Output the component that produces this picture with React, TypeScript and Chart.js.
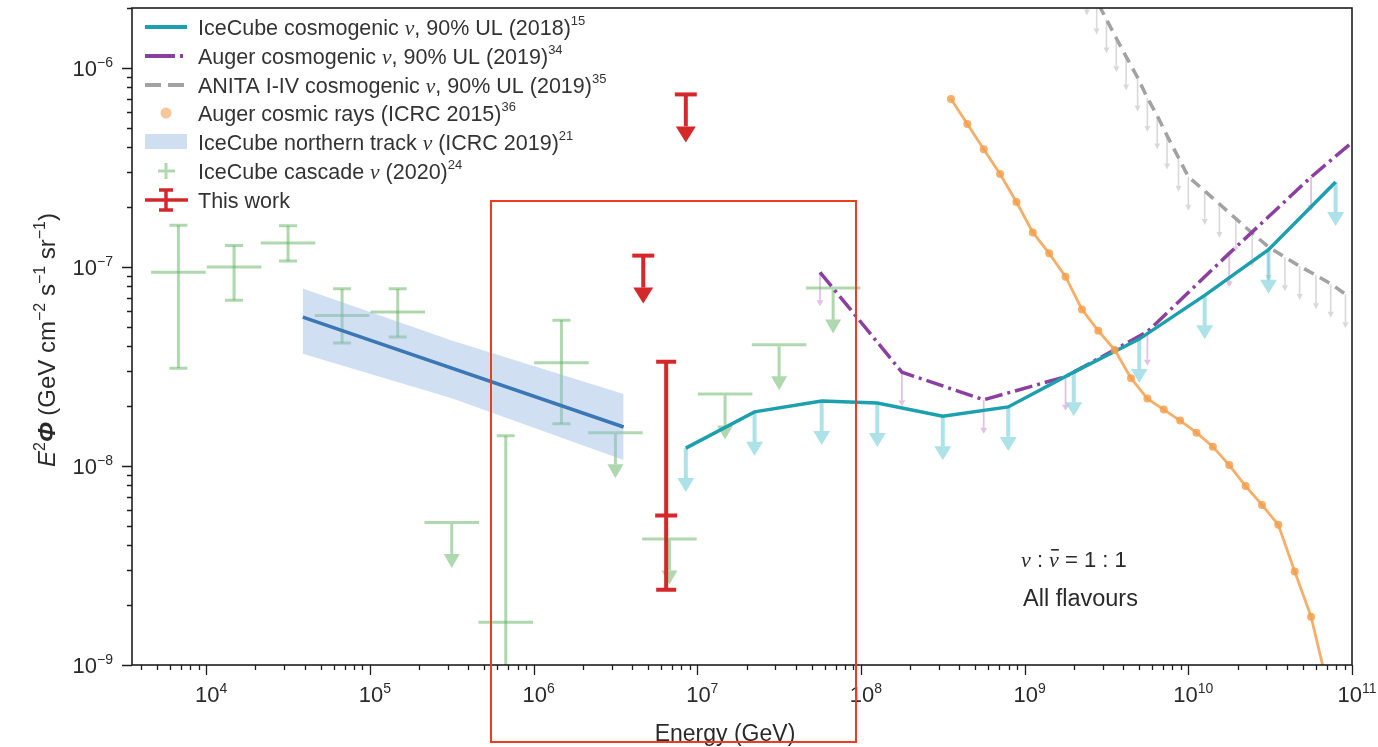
import React, { useEffect, useRef } from "react";
import { Chart, registerables } from "chart.js";
Chart.register(...registerables);

// ---------- axes ----------
const X_MIN = 3.52e3;
const X_MAX = 1e11;
const Y_MIN = 1e-9;
const Y_MAX = 2.0e-6;
const xTickExps = [4, 5, 6, 7, 8, 9, 10, 11];
const yTickExps = [-9, -8, -7, -6];

// ---------- IceCube cascade nu (2020) ----------
const cascadeLogE = [3.83, 4.17, 4.5, 4.83, 5.17, 5.5, 5.83, 6.17, 6.5, 6.83, 7.17, 7.5, 7.83];
const cascadeFlux = [9.4e-8, 1.0e-7, 1.32e-7, 5.7e-8, 5.94e-8, 5.2e-9, 1.64e-9, 3.3e-8, 1.47e-8, 4.3e-9, 2.3e-8, 4.06e-8, 7.83e-8];
const cascadeHi = [1.62e-7, 1.28e-7, 1.61e-7, 7.76e-8, 7.76e-8, null, 1.42e-8, 5.4e-8, null, null, null, null, null];
const cascadeLo = [3.1e-8, 6.8e-8, 1.07e-7, 4.15e-8, 4.45e-8, null, 1e-10, 1.63e-8, null, null, null, null, null];
const cascadeUL = [false, false, false, false, false, true, false, false, true, true, true, true, true];

// ---------- IceCube northern track (ICRC 2019) ----------
const trackLogE = [4.59, 6.55];
const trackFlux = [5.6e-8, 1.57e-8];
const bandLogE = [4.59, 5.5, 6.55];
const bandUpper = [7.8e-8, 4.27e-8, 2.3e-8];
const bandLower = [3.66e-8, 2.19e-8, 1.07e-8];

// ---------- IceCube cosmogenic 90% UL (2018) ----------
const icecubeLogE = [6.93, 7.35, 7.76, 8.1, 8.5, 8.9, 9.3, 9.7, 10.1, 10.49, 10.9];
const icecubeUL = [1.23e-8, 1.87e-8, 2.12e-8, 2.07e-8, 1.78e-8, 1.98e-8, 2.96e-8, 4.34e-8, 7.2e-8, 1.22e-7, 2.67e-7];

// ---------- Auger cosmogenic 90% UL (2019) ----------
const augerLogE = [7.75, 8.25, 8.75, 9.25, 9.75, 10.25, 10.75, 11.25];
const augerUL = [9.4e-8, 2.96e-8, 2.15e-8, 2.81e-8, 4.73e-8, 1.17e-7, 2.83e-7, 6.3e-7];

// ---------- ANITA I-IV cosmogenic 90% UL (2019) ----------
const anitaLogE = [9.3, 9.38, 9.44, 9.5, 9.56, 9.62, 9.69, 9.75, 9.81, 9.87, 9.94, 10.0, 10.1, 10.19, 10.29, 10.39, 10.49, 10.59, 10.68, 10.78, 10.87, 10.96];
const anitaUL = [3.6e-6, 2.72e-6, 2.18e-6, 1.75e-6, 1.41e-6, 1.14e-6, 8.95e-7, 7.06e-7, 5.76e-7, 4.57e-7, 3.54e-7, 2.84e-7, 2.41e-7, 2.07e-7, 1.75e-7, 1.48e-7, 1.26e-7, 1.12e-7, 1.01e-7, 9.08e-8, 8.24e-8, 7.3e-8];

// ---------- Auger cosmic rays (ICRC 2015) ----------
const crLogE = [8.55, 8.65, 8.75, 8.85, 8.95, 9.05, 9.15, 9.25, 9.35, 9.45, 9.55, 9.65, 9.75, 9.85, 9.95, 10.05, 10.15, 10.25, 10.35, 10.45, 10.55, 10.65, 10.75, 10.85];
const crFlux = [6.98e-7, 5.23e-7, 3.9e-7, 2.93e-7, 2.12e-7, 1.49e-7, 1.17e-7, 8.94e-8, 6.12e-8, 4.78e-8, 3.83e-8, 2.76e-8, 2.18e-8, 1.92e-8, 1.69e-8, 1.47e-8, 1.25e-8, 1.01e-8, 7.93e-9, 6.37e-9, 5.06e-9, 2.95e-9, 1.75e-9, 7.9e-10];

// ---------- This work ----------
const thisULLogE = [6.93, 6.67];
const thisUL = [7.36e-7, 1.14e-7];
const thisLogE = [6.81];
const thisFlux = [5.64e-9];
const thisHi = [3.34e-8];
const thisLo = [2.39e-9];

// ---------- styles ----------
const SANS = "'Liberation Sans', Arial, Helvetica, sans-serif";
const SERIF = "'Liberation Serif', 'DejaVu Serif', serif";
const C_TEAL = "#1c9fae";
const C_TEAL_A = "rgba(70,190,205,0.45)";
const C_PURPLE = "#8b3f9e";
const C_PINK_A = "rgba(190,120,190,0.45)";
const C_GREY = "#a2a2a2";
const C_GREY_A = "rgba(170,170,170,0.45)";
const C_ORANGE = "rgba(245,160,78,0.85)";
const C_BLUE = "#3a77b4";
const C_BAND = "rgba(150,185,225,0.45)";
const C_GREEN_A = "rgba(95,178,95,0.5)";
const C_RED = "#d4282a";
const C_TEXT = "#2a2a2a";

type Seg = { t: string; s?: string };

const legendLabels: Seg[][] = [
  [{ t: "IceCube cosmogenic " }, { t: "ν", s: "v" }, { t: ", 90% UL (2018)" }, { t: "15", s: "sup" }],
  [{ t: "Auger cosmogenic " }, { t: "ν", s: "v" }, { t: ", 90% UL (2019)" }, { t: "34", s: "sup" }],
  [{ t: "ANITA I-IV cosmogenic " }, { t: "ν", s: "v" }, { t: ", 90% UL (2019)" }, { t: "35", s: "sup" }],
  [{ t: "Auger cosmic rays (ICRC 2015)" }, { t: "36", s: "sup" }],
  [{ t: "IceCube northern track " }, { t: "ν", s: "v" }, { t: " (ICRC 2019)" }, { t: "21", s: "sup" }],
  [{ t: "IceCube cascade " }, { t: "ν", s: "v" }, { t: " (2020)" }, { t: "24", s: "sup" }],
  [{ t: "This work" }],
];

const yTitle: Seg[] = [
  { t: "E", s: "i" }, { t: "2", s: "sup" }, { t: "Φ", s: "bi" }, { t: " (GeV cm" }, { t: "−2", s: "sup" },
  { t: " s" }, { t: "−1", s: "sup" }, { t: " sr" }, { t: "−1", s: "sup" }, { t: ")" },
];

let SUP_SCALE = 0.62;
function segFont(s: Seg, size: number) {
  switch (s.s) {
    case "v": return `italic ${size}px ${SERIF}`;
    case "i": return `italic ${size}px ${SANS}`;
    case "bi": return `italic bold ${size}px ${SANS}`;
    case "sup": return `${Math.round(size * SUP_SCALE)}px ${SANS}`;
    default: return `${size}px ${SANS}`;
  }
}
function richWidth(ctx: CanvasRenderingContext2D, segs: Seg[], size: number) {
  let w = 0;
  for (const s of segs) { ctx.font = segFont(s, size); w += ctx.measureText(s.t).width; }
  return w;
}
function drawRich(ctx: CanvasRenderingContext2D, segs: Seg[], x: number, y: number, size: number, align: string) {
  const w = richWidth(ctx, segs, size);
  let cx = align === "right" ? x - w : align === "center" ? x - w / 2 : x;
  ctx.textAlign = "left";
  ctx.textBaseline = "alphabetic";
  for (const s of segs) {
    ctx.font = segFont(s, size);
    const dy = s.s === "sup" ? -size * 0.42 : 0;
    ctx.fillText(s.t, cx, y + dy);
    cx += ctx.measureText(s.t).width;
  }
}

function drawArrow(ctx: CanvasRenderingContext2D, x: number, y: number, len: number, color: string, lw: number, hw: number, hh: number) {
  ctx.strokeStyle = color;
  ctx.fillStyle = color;
  ctx.lineWidth = lw;
  ctx.beginPath();
  ctx.moveTo(x, y);
  ctx.lineTo(x, y + len - hh);
  ctx.stroke();
  ctx.beginPath();
  ctx.moveTo(x - hw / 2, y + len - hh);
  ctx.lineTo(x + hw / 2, y + len - hh);
  ctx.lineTo(x, y + len);
  ctx.closePath();
  ctx.fill();
}

const pts = (le: number[], v: number[]) => le.map((l, i) => ({ x: Math.pow(10, l), y: v[i] }));

const overlayPlugin = {
  id: "overlay",
  beforeDatasetsDraw(chart: any) {
    const ctx: CanvasRenderingContext2D = chart.ctx;
    const a = chart.chartArea;
    const px = (v: number) => chart.scales.x.getPixelForValue(v);
    const py = (v: number) => chart.scales.y.getPixelForValue(v);
    ctx.save();
    ctx.beginPath();
    ctx.rect(a.left, a.top, a.right - a.left, a.bottom - a.top);
    ctx.clip();
    ctx.lineCap = "butt";
    anitaLogE.forEach((l, i) => drawArrow(ctx, px(Math.pow(10, l)), py(anitaUL[i]), 34, C_GREY_A, 1.6, 6, 6));
    augerLogE.forEach((l, i) => drawArrow(ctx, px(Math.pow(10, l)), py(augerUL[i]), 34, C_PINK_A, 1.8, 7, 6));
    icecubeLogE.forEach((l, i) => drawArrow(ctx, px(Math.pow(10, l)), py(icecubeUL[i]), 44, C_TEAL_A, 4, 17, 14));
    cascadeLogE.forEach((l, i) => {
      const x = px(Math.pow(10, l));
      const x0 = px(Math.pow(10, l - 1 / 6));
      const x1 = px(Math.pow(10, l + 1 / 6));
      const y = py(cascadeFlux[i]);
      ctx.strokeStyle = C_GREEN_A;
      ctx.lineWidth = 3;
      ctx.beginPath();
      ctx.moveTo(x0, y);
      ctx.lineTo(x1, y);
      ctx.stroke();
      if (cascadeUL[i]) {
        drawArrow(ctx, x, y + 1.5, 44, C_GREEN_A, 3, 16, 14);
      } else {
        const yh = py(cascadeHi[i] as number);
        const yl = py(cascadeLo[i] as number);
        ctx.beginPath();
        ctx.moveTo(x, yh);
        ctx.lineTo(x, yl);
        ctx.stroke();
        ctx.beginPath();
        ctx.moveTo(x - 9, yh);
        ctx.lineTo(x + 9, yh);
        ctx.moveTo(x - 9, yl);
        ctx.lineTo(x + 9, yl);
        ctx.stroke();
      }
    });
    ctx.restore();
  },
  afterDatasetsDraw(chart: any) {
    const ctx: CanvasRenderingContext2D = chart.ctx;
    const px = (v: number) => chart.scales.x.getPixelForValue(v);
    const py = (v: number) => chart.scales.y.getPixelForValue(v);
    ctx.save();
    ctx.lineCap = "butt";
    thisULLogE.forEach((l, i) => {
      const x = px(Math.pow(10, l));
      const y = py(thisUL[i]);
      ctx.strokeStyle = C_RED;
      ctx.lineWidth = 4;
      ctx.beginPath();
      ctx.moveTo(x - 11, y);
      ctx.lineTo(x + 11, y);
      ctx.stroke();
      drawArrow(ctx, x, y, 48, C_RED, 4, 20, 16);
    });
    thisLogE.forEach((l, i) => {
      const x = px(Math.pow(10, l));
      const yh = py(thisHi[i]);
      const yl = py(thisLo[i]);
      const yc = py(thisFlux[i]);
      ctx.strokeStyle = C_RED;
      ctx.lineWidth = 4;
      ctx.beginPath();
      ctx.moveTo(x, yh);
      ctx.lineTo(x, yl);
      ctx.moveTo(x - 10, yh);
      ctx.lineTo(x + 10, yh);
      ctx.moveTo(x - 10, yl);
      ctx.lineTo(x + 10, yl);
      ctx.moveTo(x - 11, yc);
      ctx.lineTo(x + 11, yc);
      ctx.stroke();
    });
    ctx.restore();
  },
  afterDraw(chart: any) {
    const ctx: CanvasRenderingContext2D = chart.ctx;
    const a = chart.chartArea;
    const px = (v: number) => chart.scales.x.getPixelForValue(v);
    const py = (v: number) => chart.scales.y.getPixelForValue(v);
    ctx.save();
    ctx.strokeStyle = "#1e1e1e";
    ctx.lineWidth = 1.6;
    ctx.strokeRect(a.left, a.top, a.right - a.left, a.bottom - a.top);
    ctx.lineWidth = 1.3;
    ctx.beginPath();
    for (let e = 3; e <= 11; e++) {
      for (let m = 1; m <= 9; m++) {
        const v = m * Math.pow(10, e);
        if (v < X_MIN * 0.999 || v > X_MAX * 1.001) continue;
        const x = Math.round(px(v)) + 0.5;
        ctx.moveTo(x, a.bottom);
        ctx.lineTo(x, a.bottom + (m === 1 ? 10 : 5));
      }
    }
    for (let e = -10; e <= -5; e++) {
      for (let m = 1; m <= 9; m++) {
        const v = m * Math.pow(10, e);
        if (v < Y_MIN * 0.999 || v > Y_MAX * 1.001) continue;
        const y = Math.round(py(v)) + 0.5;
        ctx.moveTo(a.left, y);
        ctx.lineTo(a.left - (m === 1 ? 10 : 5), y);
      }
    }
    ctx.stroke();
    ctx.fillStyle = C_TEXT;
    const TS = 22;
    xTickExps.forEach((e) => {
      drawRich(ctx, [{ t: "10" }, { t: String(e), s: "sup" }], px(Math.pow(10, e)) + 5, a.bottom + 37, TS, "center");
    });
    yTickExps.forEach((e) => {
      drawRich(ctx, [{ t: "10" }, { t: "−" + String(-e), s: "sup" }], a.left - 19, py(Math.pow(10, e)) + 8, TS, "right");
    });
    drawRich(ctx, [{ t: "Energy (GeV)" }], 725, 741, 23, "center");
    ctx.save();
    ctx.translate(55, 340);
    ctx.rotate(-Math.PI / 2);
    SUP_SCALE = 0.68;
    drawRich(ctx, yTitle, 0, 0, 24, "center");
    SUP_SCALE = 0.62;
    ctx.restore();
    ctx.fillStyle = C_TEXT;
    const AS = 22;
    let ax = 1021;
    const ay = 567;
    ctx.textAlign = "left";
    ctx.font = `italic ${AS}px ${SERIF}`;
    ctx.fillText("ν", ax, ay);
    ax += ctx.measureText("ν").width;
    ctx.font = `${AS}px ${SANS}`;
    ctx.fillText(" : ", ax, ay);
    ax += ctx.measureText(" : ").width;
    ctx.font = `italic ${AS}px ${SERIF}`;
    ctx.fillText("ν", ax, ay);
    const nw = ctx.measureText("ν").width;
    ctx.fillRect(ax + 2, ay - 18, nw - 2, 1.6);
    ax += nw;
    ctx.font = `${AS}px ${SANS}`;
    ctx.fillText(" = 1 : 1", ax, ay);
    ctx.font = `23.5px ${SANS}`;
    ctx.fillText("All flavours", 1023, 606);
    const LX0 = 145;
    const LX1 = 187;
    const LTX = 198;
    const rows = [27, 56, 85, 113, 142, 171, 200];
    ctx.lineCap = "butt";
    ctx.strokeStyle = C_TEAL;
    ctx.lineWidth = 4;
    ctx.beginPath(); ctx.moveTo(LX0, rows[0]); ctx.lineTo(LX1, rows[0]); ctx.stroke();
    ctx.strokeStyle = C_PURPLE;
    ctx.setLineDash([30, 5, 3, 5]);
    ctx.beginPath(); ctx.moveTo(LX0, rows[1]); ctx.lineTo(LX1, rows[1]); ctx.stroke();
    ctx.strokeStyle = C_GREY;
    ctx.setLineDash([16, 7]);
    ctx.beginPath(); ctx.moveTo(LX0, rows[2]); ctx.lineTo(LX1, rows[2]); ctx.stroke();
    ctx.setLineDash([]);
    ctx.fillStyle = "rgba(245,175,110,0.7)";
    ctx.beginPath(); ctx.arc(166, rows[3], 5.5, 0, Math.PI * 2); ctx.fill();
    ctx.fillStyle = "rgba(175,200,230,0.6)";
    ctx.fillRect(LX0, rows[4] - 8, LX1 - LX0, 15);
    ctx.strokeStyle = C_GREEN_A;
    ctx.lineWidth = 3;
    ctx.beginPath();
    ctx.moveTo(158, rows[5]); ctx.lineTo(175, rows[5]);
    ctx.moveTo(166, rows[5] - 8); ctx.lineTo(166, rows[5] + 8);
    ctx.stroke();
    ctx.strokeStyle = C_RED;
    ctx.lineWidth = 3.5;
    ctx.beginPath();
    ctx.moveTo(LX0, rows[6]); ctx.lineTo(LX1 + 1, rows[6]);
    ctx.moveTo(166, rows[6] - 10); ctx.lineTo(166, rows[6] + 10);
    ctx.moveTo(159, rows[6] - 10); ctx.lineTo(173, rows[6] - 10);
    ctx.moveTo(159, rows[6] + 10); ctx.lineTo(173, rows[6] + 10);
    ctx.stroke();
    ctx.fillStyle = "#333333";
    legendLabels.forEach((segs, i) => drawRich(ctx, segs, LTX, rows[i] + 7.5, 21.5, "left"));
    ctx.restore();
  },
};

export default function App() {
  const ref = useRef<HTMLCanvasElement | null>(null);
  useEffect(() => {
    document.body.style.margin = "0";
    if (!ref.current) return;
    const chart = new Chart(ref.current, {
      type: "line",
      data: {
        datasets: [
          { label: "bandUp", data: pts(bandLogE, bandUpper), borderWidth: 0, pointRadius: 0, fill: false, order: 8 },
          { label: "bandLow", data: pts(bandLogE, bandLower), borderWidth: 0, pointRadius: 0, fill: "-1", backgroundColor: C_BAND, order: 7 },
          { label: "track", data: pts(trackLogE, trackFlux), borderColor: C_BLUE, borderWidth: 3.5, pointRadius: 0, order: 6 },
          { label: "anita", data: pts(anitaLogE, anitaUL), borderColor: C_GREY, borderDash: [11, 7], borderWidth: 3.5, pointRadius: 0, order: 5 },
          { label: "auger", data: pts(augerLogE, augerUL), borderColor: C_PURPLE, borderDash: [18, 5, 3, 5], borderWidth: 3.5, pointRadius: 0, order: 4 },
          { label: "icecube", data: pts(icecubeLogE, icecubeUL), borderColor: C_TEAL, borderWidth: 3.5, pointRadius: 0, order: 3 },
          {
            label: "augerCR", data: pts(crLogE, crFlux), borderColor: C_ORANGE, borderWidth: 2.8, pointRadius: 4,
            pointBackgroundColor: C_ORANGE, pointBorderWidth: 0, order: 2,
          },
        ] as any,
      },
      options: {
        animation: false,
        responsive: false,
        devicePixelRatio: 1,
        layout: { padding: { left: 132, top: 8, right: 26, bottom: 82 } },
        elements: { line: { tension: 0 } },
        plugins: { legend: { display: false }, tooltip: { enabled: false } },
        scales: {
          x: { type: "logarithmic", min: X_MIN, max: X_MAX, display: false },
          y: { type: "logarithmic", min: Y_MIN, max: Y_MAX, display: false },
        },
      } as any,
      plugins: [overlayPlugin],
    });
    return () => chart.destroy();
  }, []);
  return (
    <div style={{ position: "fixed", left: 0, top: 0, width: 1378, height: 747, background: "#fff", overflow: "hidden" }}>
      <canvas ref={ref} width={1378} height={747} style={{ display: "block" }} />
      <div
        style={{
          position: "absolute", left: 490, top: 200, width: 367, height: 543,
          border: "2px solid #f23b1e", boxSizing: "border-box", pointerEvents: "none",
        }}
      />
    </div>
  );
}
